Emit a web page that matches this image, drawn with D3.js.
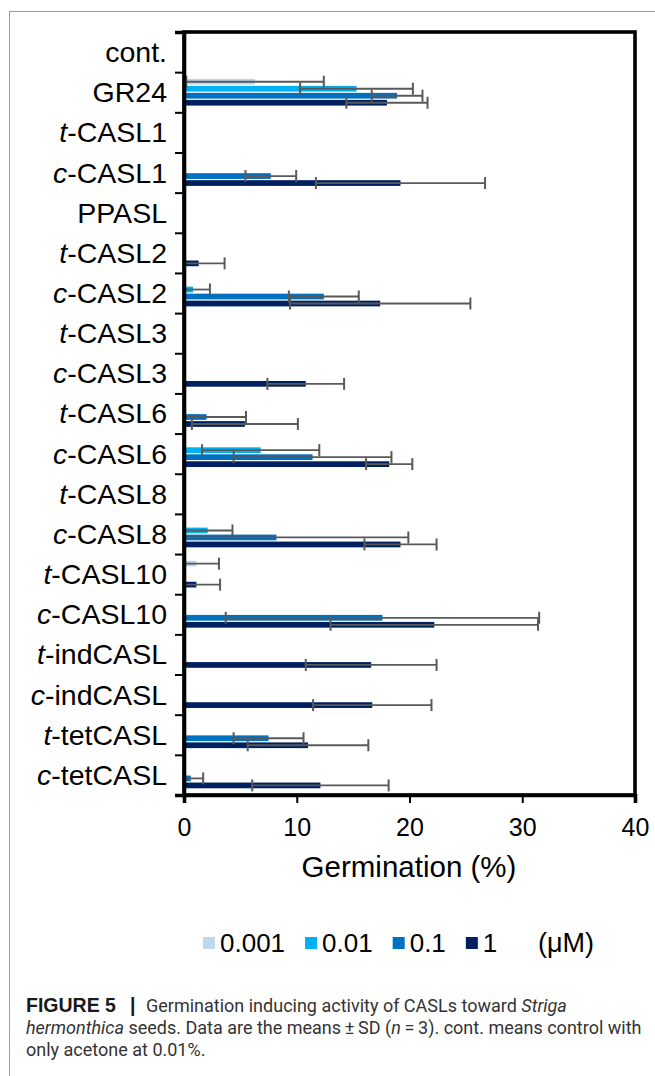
<!DOCTYPE html>
<html>
<head>
<meta charset="utf-8">
<script src="https://cdn.jsdelivr.net/npm/d3@7"></script>
<style>
  html, body { margin: 0; padding: 0; background: #fff; }
  svg { display: block; }
</style>
</head>
<body>
<svg id="chart" width="655" height="1076"></svg>
<script>
// ---------------- data ----------------
const categories = ["cont.","GR24","t-CASL1","c-CASL1","PPASL","t-CASL2","c-CASL2","t-CASL3","c-CASL3","t-CASL6","c-CASL6","t-CASL8","c-CASL8","t-CASL10","c-CASL10","t-indCASL","c-indCASL","t-tetCASL","c-tetCASL"];
const seriesNames = ["0.001","0.01","0.1","1"];
const seriesColors = ["#BDD7EE","#00B0F0","#0070C0","#002060"];
//                cont GR24 tC1 cC1 PPA tC2  cC2  tC3 cC3  tC6 cC6  tC8 cC8  tC10 cC10 tind cind ttet ctet
const mean0001 = [0, 6.3, 0, 0,   0, 0,   0,   0, 0,   0,  0,   0, 0,   1.1, 0,   0,   0,   0,   0];
const sd0001   = [0, 6.1, 0, 0,   0, 0,   0,   0, 0,   0,  0,   0, 0,   2.0, 0,   0,   0,   0,   0];
const mean001  = [0, 15.3,0, 0,   0, 0,   0.8, 0, 0,   0,  6.8, 0, 2.1, 0,   0,   0,   0,   0,   0];
const sd001    = [0, 5.0, 0, 0,   0, 0,   1.5, 0, 0,   0,  5.2, 0, 2.2, 0,   0,   0,   0,   0,   0];
const mean01   = [0, 18.9,0, 7.7, 0, 0,   12.4,0, 0,   2.0,11.4,0, 8.2, 0,   17.6,0,   0,   7.5, 0.6];
const sd01     = [0, 2.25,0, 2.25,0, 0,   3.1, 0, 0,   3.5,7.0, 0, 11.7,0,   13.9,0,   0,   3.1, 1.1];
const mean1    = [0, 18.0,0, 19.2,0, 1.3, 17.4,0, 10.8,5.4,18.2,0, 19.2,1.1, 22.2,16.6,16.7,11.0,12.1];
const sd1      = [0, 3.6, 0, 7.5, 0, 2.3, 8.0, 0, 3.4, 4.7,2.05,0, 3.2, 2.1, 9.2, 5.8, 5.25,5.35,6.05];
const xTicks = [0, 10, 20, 30, 40];
const xTitle = "Germination (%)";
const unitLabel = "(\u03bcM)";

const means = [mean0001, mean001, mean01, mean1];
const sds = [sd0001, sd001, sd01, sd1];

const rows = [];
categories.forEach((c, i) => {
  seriesNames.forEach((s, j) => {
    rows.push({cat: c, series: s, color: seriesColors[j], value: means[j][i], sd: sds[j][i]});
  });
});

// ---------------- layout ----------------
const svg = d3.select("#chart");
const font = "'Liberation Sans', Arial, sans-serif";
const plot = {left: 184, right: 635, top: 32, bottom: 795};

// figure frame (cropped panel border)
svg.append("line").attr("x1", 9.5).attr("x2", 655).attr("y1", 11.5).attr("y2", 11.5)
  .attr("stroke", "#9c9c9c").attr("stroke-width", 1);
svg.append("line").attr("x1", 9.5).attr("x2", 9.5).attr("y1", 11.5).attr("y2", 1076)
  .attr("stroke", "#9c9c9c").attr("stroke-width", 1);

const x = d3.scaleLinear().domain([0, 40]).range([plot.left, plot.right]);
const y = d3.scaleBand().domain(categories).range([plot.top, plot.bottom]);
const ySub = d3.scaleBand().domain(seriesNames).range([0, y.bandwidth()])
  .paddingInner(0.18).paddingOuter(0.96);
const yEdge = d3.scaleLinear().domain([0, categories.length]).range([plot.top, plot.bottom]);

// bars
const g = svg.append("g");
g.selectAll("rect.bar").data(rows.filter(d => d.value > 0)).join("rect")
  .attr("class", "bar")
  .attr("x", x(0))
  .attr("y", d => y(d.cat) + ySub(d.series))
  .attr("width", d => x(d.value) - x(0))
  .attr("height", ySub.bandwidth())
  .attr("fill", d => d.color);

// error bars
const errCol = "#595959";
const capH = 12;
const eb = g.selectAll("g.err").data(rows.filter(d => d.value > 0 && d.sd > 0)).join("g").attr("class", "err");
eb.append("line")
  .attr("x1", d => x(Math.max(0, d.value - d.sd)))
  .attr("x2", d => x(d.value + d.sd))
  .attr("y1", d => y(d.cat) + ySub(d.series) + ySub.bandwidth() / 2)
  .attr("y2", d => y(d.cat) + ySub(d.series) + ySub.bandwidth() / 2)
  .attr("stroke", errCol).attr("stroke-width", 1.8);
eb.append("line")
  .attr("x1", d => x(d.value + d.sd)).attr("x2", d => x(d.value + d.sd))
  .attr("y1", d => y(d.cat) + ySub(d.series) + ySub.bandwidth() / 2 - capH / 2)
  .attr("y2", d => y(d.cat) + ySub(d.series) + ySub.bandwidth() / 2 + capH / 2)
  .attr("stroke", errCol).attr("stroke-width", 2);
eb.filter(d => d.value - d.sd > 0).append("line")
  .attr("x1", d => x(d.value - d.sd)).attr("x2", d => x(d.value - d.sd))
  .attr("y1", d => y(d.cat) + ySub(d.series) + ySub.bandwidth() / 2 - capH / 2)
  .attr("y2", d => y(d.cat) + ySub(d.series) + ySub.bandwidth() / 2 + capH / 2)
  .attr("stroke", errCol).attr("stroke-width", 2);

// frame of the plot area
svg.append("rect")
  .attr("x", plot.left).attr("y", plot.top)
  .attr("width", plot.right - plot.left).attr("height", plot.bottom - plot.top)
  .attr("fill", "none").attr("stroke", "#000").attr("stroke-width", 3.6);

// left axis (ticks at band edges)
const yAxis = svg.append("g").attr("transform", `translate(${plot.left},0)`)
  .call(d3.axisLeft(yEdge).tickValues(d3.range(categories.length + 1)).tickSize(9).tickFormat(""));
yAxis.select(".domain").attr("stroke", "#000").attr("stroke-width", 3.6);
yAxis.selectAll(".tick line").attr("stroke", "#000").attr("stroke-width", 2);

// category labels
const labels = svg.append("g").attr("font-family", font).attr("font-size", 28.5).attr("fill", "#000");
categories.forEach(c => {
  const t = labels.append("text")
    .attr("x", 167).attr("y", y(c) + y.bandwidth() / 2)
    .attr("dy", "0.35em").attr("text-anchor", "end");
  const m = c.match(/^([tc])(-.*)$/);
  if (m) {
    t.append("tspan").attr("font-style", "italic").text(m[1]);
    t.append("tspan").text(m[2]);
  } else {
    t.text(c);
  }
});

// bottom axis
const xAxis = svg.append("g").attr("transform", `translate(0,${plot.bottom})`)
  .call(d3.axisBottom(x).tickValues(xTicks).tickSize(8).tickPadding(15).tickFormat(d3.format("d")));
xAxis.select(".domain").attr("stroke", "#000").attr("stroke-width", 3.6);
xAxis.selectAll(".tick line").attr("stroke", "#000").attr("stroke-width", 2);
xAxis.selectAll(".tick text").attr("font-family", font).attr("font-size", 25).attr("fill", "#000");

// x title
svg.append("text").attr("x", 409).attr("y", 877)
  .attr("text-anchor", "middle").attr("font-family", font).attr("font-size", 29.5)
  .attr("fill", "#000").text(xTitle);

// legend
const leg = svg.append("g").attr("font-family", font).attr("font-size", 26).attr("fill", "#000");
let lx = 203;
const ly = 943;
seriesNames.forEach((s, j) => {
  leg.append("rect").attr("x", lx).attr("y", ly - 6).attr("width", 12).attr("height", 12)
    .attr("fill", seriesColors[j]);
  const t = leg.append("text").attr("x", lx + 17).attr("y", ly).attr("dy", "0.35em").text(s);
  lx = lx + 17 + t.node().getComputedTextLength() + 20;
});
leg.append("text").attr("x", 538).attr("y", ly).attr("dy", "0.35em").attr("font-size", 27).text(unitLabel);

// caption
const cap = svg.append("g").attr("font-family", "Roboto, 'Liberation Sans', sans-serif")
  .attr("font-size", 18).attr("fill", "#333");
const l1 = cap.append("text").attr("y", 1012);
l1.append("tspan").attr("x", 26).attr("font-family", font).attr("font-size", 19.5)
  .attr("font-weight", "bold").attr("fill", "#1a1a1a").text("FIGURE 5");
l1.append("tspan").attr("x", 130).attr("font-family", font).attr("font-size", 19.5)
  .attr("font-weight", "bold").attr("fill", "#1a1a1a").text("|");
l1.append("tspan").attr("x", 146).text("Germination inducing activity of CASLs toward ");
l1.append("tspan").attr("font-style", "italic").text("Striga");
const l2 = cap.append("text").attr("x", 26).attr("y", 1034);
l2.append("tspan").attr("font-style", "italic").text("hermonthica");
l2.append("tspan").text(" seeds. Data are the means\u2009\u00b1\u2009SD (");
l2.append("tspan").attr("font-style", "italic").text("n");
l2.append("tspan").text("\u2009=\u20093). cont. means control with");
cap.append("text").attr("x", 26).attr("y", 1056).text("only acetone at 0.01%.");
</script>
</body>
</html>
